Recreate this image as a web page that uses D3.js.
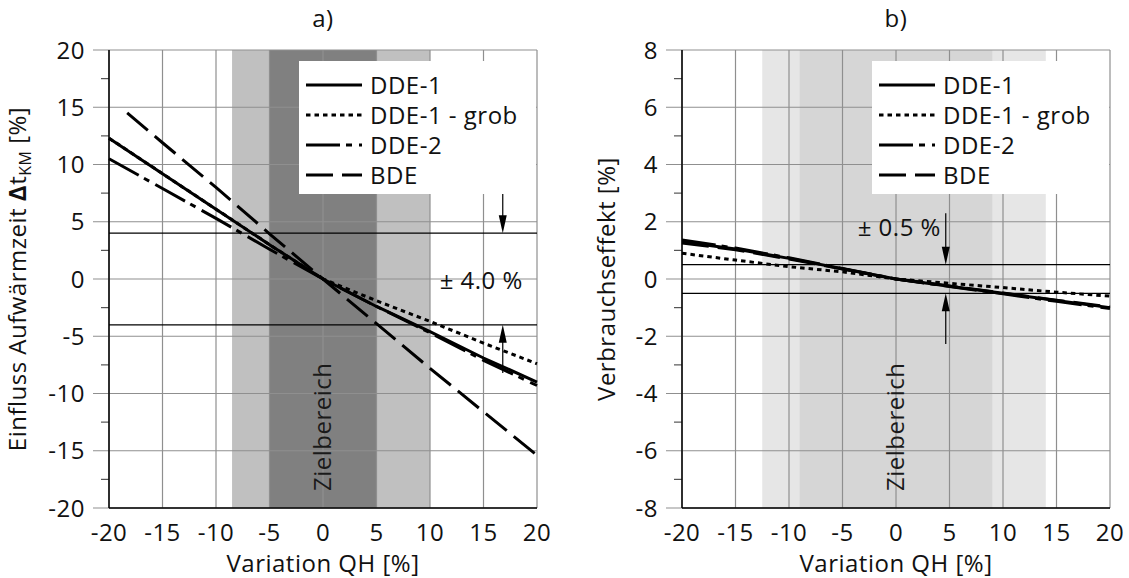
<!DOCTYPE html>
<html><head><meta charset="utf-8">
<script src="https://cdn.jsdelivr.net/npm/d3@7/dist/d3.min.js"></script>
<style>
html,body{margin:0;padding:0;background:#fff;}
svg text{font-family:"Open Sans","Lato",sans-serif;fill:#111;letter-spacing:0.5px;}
</style></head>
<body><svg id="chart" width="1129" height="578"></svg>
<script>
// ---------------- data ----------------
const xTickValues = [-20,-15,-10,-5,0,5,10,15,20];
const qh = [-20,-15,-10,-5,0,5,10,15,20];
const qhBDEa = [-18.3,-15,-10,-5,0,5,10,15,20];
const seriesNames = ["DDE-1","DDE-1 - grob","DDE-2","BDE"];

// panel a) Einfluss Aufwärmzeit
const aDDE1     = [12.3, 9.2, 6.1, 3.0, 0, -2.4, -4.6, -6.9, -9.0];
const aDDE1grob = [12.3, 9.2, 6.1, 3.0, 0, -1.9, -3.7, -5.6, -7.4];
const aDDE2     = [10.5, 7.9, 5.3, 2.6, 0, -2.4, -4.7, -7.1, -9.3];
const aBDE      = [14.5, 11.9, 8.0, 3.95, 0, -3.9, -7.8, -11.6, -15.4];
const aYTicks = [-20,-15,-10,-5,0,5,10,15,20];
const aYMinor = [-17.5,-12.5,-7.5,-2.5,2.5,7.5,12.5,17.5];
const aZoneOuter = [-8.5, 10];
const aZoneInner = [-5, 5];
const aTol = 4.0;

// panel b) Verbrauchseffekt
const bDDE1     = [1.30, 1.05, 0.72, 0.36, 0, -0.25, -0.50, -0.75, -1.00];
const bDDE1grob = [0.90, 0.66, 0.43, 0.25, 0, -0.15, -0.30, -0.46, -0.60];
const bDDE2     = [1.36, 1.08, 0.74, 0.37, 0, -0.26, -0.52, -0.78, -1.03];
const bBDE      = [1.26, 1.02, 0.70, 0.35, 0, -0.24, -0.49, -0.74, -0.98];
const bYTicks = [-8,-6,-4,-2,0,2,4,6,8];
const bYMinor = [-7,-5,-3,-1,1,3,5,7];
const bZoneOuter = [-12.5, 14];
const bZoneInner = [-9, 9];
const bTol = 0.5;

// ---------------- layout ----------------
const svg = d3.select("#chart");
const dashes = ["none","4.5,4","34,6,6,7","27,9"];
const FS = "24px";

const panels = [
  {left:109, right:537, top:50, bottom:508, title:"a)", yDomain:[-20,20], yTicks:aYTicks, yMinor:aYMinor,
   zoneOuter:aZoneOuter, zoneInner:aZoneInner, outerCol:"#c0c0c0", innerCol:"#808080",
   series:[{x:qh,y:aDDE1},{x:qh,y:aDDE1grob},{x:qh,y:aDDE2},{x:qhBDEa,y:aBDE}],
   tol:aTol, tolText:"± 4.0 %", arrowX:16.8, arrowFar:[8.3,-8.2], textX:10.9, textY:-0.1, textAnchor:"start",
   ylab:"a"},
  {left:682, right:1110, top:50, bottom:508, title:"b)", yDomain:[-8,8], yTicks:bYTicks, yMinor:bYMinor,
   zoneOuter:bZoneOuter, zoneInner:bZoneInner, outerCol:"#e6e6e6", innerCol:"#d6d6d6",
   series:[{x:qh,y:bDDE1},{x:qh,y:bDDE1grob},{x:qh,y:bDDE2},{x:qh,y:bBDE}],
   tol:bTol, tolText:"± 0.5 %", arrowX:4.65, arrowFar:[2.3,-2.27], textX:4.2, textY:1.8, textAnchor:"end",
   ylab:"b"}
];

panels.forEach(p => {
  const x = d3.scaleLinear().domain([-20,20]).range([p.left,p.right]);
  const y = d3.scaleLinear().domain(p.yDomain).range([p.bottom,p.top]);
  const g = svg.append("g");

  // title
  g.append("text").attr("x",(p.left+p.right)/2).attr("y",27).attr("text-anchor","middle")
    .style("font-size",FS).text(p.title);

  // zones
  g.append("rect").attr("x",x(p.zoneOuter[0])).attr("y",p.top)
    .attr("width",x(p.zoneOuter[1])-x(p.zoneOuter[0])).attr("height",p.bottom-p.top).attr("fill",p.outerCol);
  g.append("rect").attr("x",x(p.zoneInner[0])).attr("y",p.top)
    .attr("width",x(p.zoneInner[1])-x(p.zoneInner[0])).attr("height",p.bottom-p.top).attr("fill",p.innerCol);

  // grid (vertical)
  const grid = g.append("g").attr("stroke","#8f8f8f").attr("stroke-width",1.2);
  grid.selectAll(".vg").data(xTickValues).join("line")
    .attr("x1",d=>x(d)).attr("x2",d=>x(d)).attr("y1",p.top).attr("y2",p.bottom);
  // horizontal grid + major ticks
  grid.selectAll(".hg").data(p.yTicks).join("line")
    .attr("x1",p.left-16).attr("x2",p.right).attr("y1",d=>y(d)).attr("y2",d=>y(d));
  // minor ticks
  g.append("g").attr("stroke","#555").attr("stroke-width",1.2).selectAll("line").data(p.yMinor).join("line")
    .attr("x1",p.left-8).attr("x2",p.left).attr("y1",d=>y(d)).attr("y2",d=>y(d));

  // axis lines
  g.append("line").attr("x1",p.left).attr("x2",p.left).attr("y1",p.top).attr("y2",p.bottom)
    .attr("stroke","#000").attr("stroke-width",1.5);
  g.append("line").attr("x1",p.left).attr("x2",p.right).attr("y1",p.bottom).attr("y2",p.bottom)
    .attr("stroke","#000").attr("stroke-width",1.5);

  // tick labels
  g.append("g").selectAll("text").data(p.yTicks).join("text")
    .attr("x",p.left-24).attr("y",d=>y(d)).attr("dy","0.36em").attr("text-anchor","end")
    .style("font-size",FS).text(d=>d);
  g.append("g").selectAll("text").data(xTickValues).join("text")
    .attr("x",d=>x(d)).attr("y",p.bottom+33).attr("text-anchor","middle")
    .style("font-size",FS).text(d=>d);

  // axis titles
  g.append("text").attr("x",(p.left+p.right)/2).attr("y",572).attr("text-anchor","middle")
    .style("font-size",FS).text("Variation QH [%]");
  if (p.ylab==="a") {
    const t = g.append("text").attr("transform",`translate(${p.left-83},${(p.top+p.bottom)/2}) rotate(-90)`)
      .attr("text-anchor","middle").style("font-size",FS);
    t.append("tspan").text("Einfluss Aufwärmzeit ");
    t.append("tspan").style("font-weight","bold").text("Δ");
    t.append("tspan").text("t");
    t.append("tspan").attr("dy","5").style("font-size","16px").text("KM");
    t.append("tspan").attr("dy","-5").text(" [%]");
  } else {
    g.append("text").attr("transform",`translate(${p.left-67},${(p.top+p.bottom)/2}) rotate(-90)`)
      .attr("text-anchor","middle").style("font-size",FS).text("Verbrauchseffekt [%]");
  }

  // Zielbereich
  g.append("text").attr("transform",`translate(${x(0)+8},${y(p.yDomain[0])-17}) rotate(-90)`)
    .attr("text-anchor","start").style("font-size",FS).style("fill","#1a1a1a").text("Zielbereich");

  // tolerance lines
  g.append("g").attr("stroke","#000").attr("stroke-width",1.3).selectAll("line").data([p.tol,-p.tol]).join("line")
    .attr("x1",p.left).attr("x2",p.right).attr("y1",d=>y(d)).attr("y2",d=>y(d));

  // arrows
  const ax = x(p.arrowX);
  [[p.arrowFar[0], p.tol],[p.arrowFar[1], -p.tol]].forEach(([from,to]) => {
    const y0 = y(from), y1 = y(to);
    const dir = Math.sign(y1-y0);
    g.append("line").attr("x1",ax).attr("x2",ax).attr("y1",y0).attr("y2",y1-dir*10)
      .attr("stroke","#000").attr("stroke-width",1.2);
    g.append("path").attr("d",`M${ax},${y1} L${ax-4},${y1-dir*18} L${ax+4},${y1-dir*18} Z`).attr("fill","#000");
  });
  g.append("text").attr("x",x(p.textX)).attr("y",y(p.textY)).attr("dy","0.36em")
    .attr("text-anchor",p.textAnchor).style("font-size",FS).text(p.tolText);

  // lines
  const line = d3.line().x(d=>x(d[0])).y(d=>y(d[1]));
  const order = [3,1,2,0];
  order.forEach(i => {
    const s = p.series[i];
    g.append("path").datum(s.x.map((v,k)=>[v,s.y[k]])).attr("d",line)
      .attr("fill","none").attr("stroke","#000").attr("stroke-width",3)
      .attr("stroke-dasharray",dashes[i]);
  });

  // legend
  const lg = g.append("g").attr("transform",`translate(${p.left+190},${p.top+11})`);
  lg.append("rect").attr("width",p.right-p.left-191).attr("height",133).attr("fill","#fff");
  seriesNames.forEach((n,i) => {
    const ry = 24 + i*30;
    lg.append("line").attr("x1",7).attr("x2",63).attr("y1",ry).attr("y2",ry)
      .attr("stroke","#000").attr("stroke-width",3).attr("stroke-dasharray",dashes[i]);
    lg.append("text").attr("x",71).attr("y",ry).attr("dy","0.36em").style("font-size",FS).text(n);
  });
});
</script></body></html>
